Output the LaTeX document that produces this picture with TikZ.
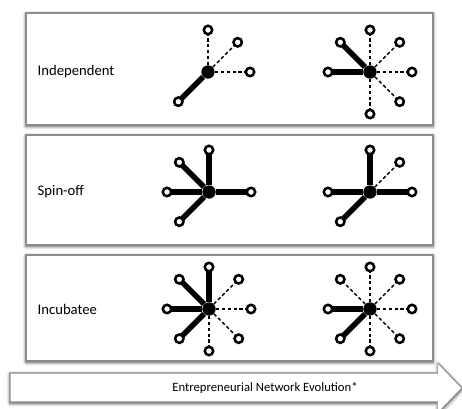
\documentclass[tikz,border=0pt]{standalone}
\usepackage{fontspec}
\setmainfont{Carlito}
\usetikzlibrary{shadows.blur}

\begin{document}
\begin{tikzpicture}[x=0.75pt, y=0.75pt,
    soft/.style={blur shadow={shadow xshift=0pt, shadow yshift=-1pt,
                 shadow blur radius=2.5pt, shadow opacity=75}},
    panel/.style={draw=black!45, line width=0.8pt, fill=white, soft},
    hub/.style={circle, fill=black, inner sep=0pt, minimum size=10pt},
    leaf/.style={circle, solid, draw=black, line width=1.9pt, fill=white,
                 inner sep=0pt, minimum size=6.3pt},
    strong/.style={line width=4pt},
    weak/.style={line width=1.05pt, dash pattern=on 2.6pt off 1.8pt},
    kind/.style={anchor=west, font=\fontsize{11}{13}\selectfont}]
  \clip (0,0) rectangle (462,409);

  % the three rows
  \draw[panel] (26,284) rectangle (433,396);
  \draw[panel] (26,164) rectangle (433,274);
  \draw[panel] (26,48) rectangle (433,154);

  \node[kind] (ind) at (33,337) {Independent};
  \node[kind] (spin) at (33,217) {Spin-off};
  \node[kind] (incub) at (33,100) {Incubatee};

  % independent
  \node[hub] (i1) at (208,337) {};
  \foreach \a/\t in {90/weak,45/weak,0/weak,225/strong}
    \draw[\t] (i1) -- ++(\a:42) node[leaf] (i1-\a) {};
  \node[hub] (i2) at (370,337) {};
  \foreach \a/\t in {90/weak,45/weak,0/weak,315/weak,270/weak,180/strong,135/strong}
    \draw[\t] (i2) -- ++(\a:42) node[leaf] (i2-\a) {};

  % spin-off
  \node[hub] (s1) at (209,217) {};
  \foreach \a/\t in {90/strong,135/strong,180/strong,0/strong,225/strong}
    \draw[\t] (s1) -- ++(\a:42) node[leaf] (s1-\a) {};
  \node[hub] (s2) at (370,217) {};
  \foreach \a/\t in {45/weak,90/strong,180/strong,0/strong,225/strong}
    \draw[\t] (s2) -- ++(\a:42) node[leaf] (s2-\a) {};

  % incubatee
  \node[hub] (c1) at (209,100) {};
  \foreach \a/\t in {45/weak,0/weak,315/weak,270/weak,90/strong,135/strong,180/strong,225/strong}
    \draw[\t] (c1) -- ++(\a:42) node[leaf] (c1-\a) {};
  \node[hub] (c2) at (370,100) {};
  \foreach \a/\t in {90/weak,135/weak,45/weak,0/weak,315/weak,270/weak,180/strong,225/strong}
    \draw[\t] (c2) -- ++(\a:42) node[leaf] (c2-\a) {};

  % evolution arrow along the bottom
  \path[fill=white, soft] (10,7) -- (10,36) -- (438,36) -- (438,46) -- (462,21)
    -- (438,-4) -- (438,7) -- cycle;
  \draw[black!45, line width=0.8pt] (438,7) -- (10,7) -- (10,36) -- (438,36)
    (438,46) -- (462,21) -- (438,-4);
  \node[font=\fontsize{9.5}{11}\selectfont] (evo) at (265,21)
    {Entrepreneurial Network Evolution*};
\end{tikzpicture}
\end{document}
